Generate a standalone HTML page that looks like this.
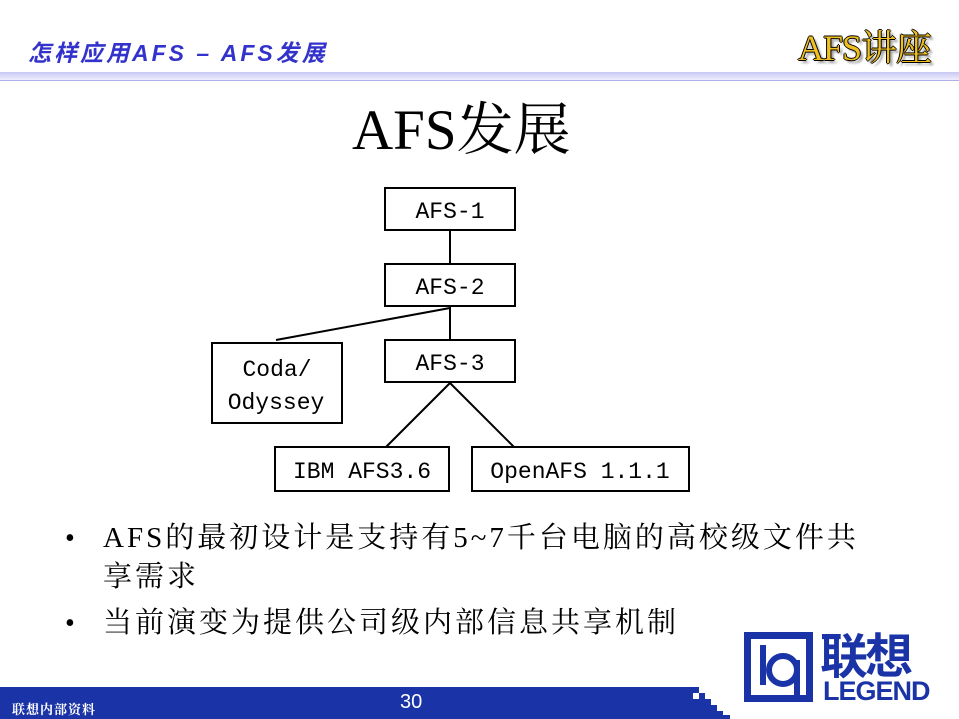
<!DOCTYPE html>
<html><head><meta charset="utf-8"><style>
body{margin:0;width:959px;height:719px;position:relative;background:#fff;overflow:hidden;font-family:"Liberation Serif","Noto Serif CJK SC",serif}
.a{position:absolute}
</style></head><body>
<div class="a" style="left:28px;top:34px;font:bold 23px 'Liberation Sans','Noto Sans CJK SC',sans-serif;color:#3333cc;letter-spacing:3px;font-style:italic">怎样应用AFS – AFS发展</div>
<div class="a" style="left:798px;top:20px;font:36px 'Liberation Serif','Noto Serif CJK SC',serif;color:#f0c020;text-shadow:1px 0 0 #000,-1px 0 0 #000,0 1px 0 #000,0 -1px 0 #000,3px 3px 2px #999;letter-spacing:-1px">AFS讲座</div>
<div class="a" style="left:0;top:72px;width:959px;height:8px;background:linear-gradient(#c8c8f4,#eeeefc);border-bottom:1px solid #b0b0e8"></div>
<div class="a" style="left:352px;top:95px;font-size:57px;color:#000;line-height:72px">AFS发展</div>
<svg class="a" style="left:0;top:0" width="959" height="719">
<g stroke="#000" stroke-width="2" fill="none">
<line x1="450" y1="230" x2="450" y2="264"/><line x1="450" y1="306" x2="450" y2="340"/>
<line x1="450" y1="308" x2="276" y2="340"/><line x1="450" y1="383" x2="386" y2="447"/><line x1="450" y1="383" x2="514" y2="447"/>
<rect x="385" y="188" width="130" height="42"/><rect x="385" y="264" width="130" height="42"/><rect x="385" y="340" width="130" height="42"/>
<rect x="212" y="343" width="130" height="80"/><rect x="275" y="447" width="174" height="44"/><rect x="472" y="447" width="217" height="44"/>
</g>
<g font-family="Liberation Mono,monospace" font-size="23" text-anchor="middle" fill="#000">
<text x="450" y="218">AFS-1</text><text x="450" y="294">AFS-2</text><text x="450" y="370">AFS-3</text>
<text x="277" y="376">Coda/</text><text x="276" y="409">Odyssey</text>
<text x="362" y="478">IBM AFS3.6</text><text x="580" y="478">OpenAFS 1.1.1</text>
</g>
<rect x="744" y="632" width="69" height="70" fill="#1a33a6"/>
<rect x="751" y="639" width="55" height="56" fill="#fff"/>
<rect x="760" y="645" width="6" height="40" fill="#1a33a6"/>
<circle cx="783" cy="670" r="14" fill="none" stroke="#1a33a6" stroke-width="6"/>
<rect x="794" y="660" width="6" height="35" fill="#1a33a6"/>
</svg>
<div class="a" style="left:820px;top:624px;font:bold 48px 'Noto Sans CJK SC',sans-serif;color:#1a33a6;line-height:56px;letter-spacing:-3px">联想</div>
<div class="a" style="left:823px;top:677px;font:bold 27px 'Liberation Sans',sans-serif;color:#1a33a6;line-height:28px;letter-spacing:-1px">LEGEND</div>
<div class="a" style="left:65px;top:519px;font-size:28px;line-height:39px;color:#000">•</div>
<div class="a" style="left:103px;top:519px;width:760px;font-size:29px;letter-spacing:3px;line-height:39px;color:#000">AFS的最初设计是支持有5~7千台电脑的高校级文件共享需求</div>
<div class="a" style="left:65px;top:604px;font-size:28px;line-height:39px">•</div>
<div class="a" style="left:103px;top:604px;font-size:29px;letter-spacing:3px;line-height:39px">当前演变为提供公司级内部信息共享机制</div>
<div class="a" style="left:0;top:687px;width:692px;height:32px;background:#1a33a6"></div>
<svg class="a" style="left:690px;top:687px" width="45" height="32">
<rect x="0" y="0" width="3" height="32" fill="#1a33a6"/>
<rect x="3" y="0" width="6" height="6" fill="#1a33a6"/><rect x="9" y="6" width="6" height="26" fill="#1a33a6"/><rect x="3" y="12" width="6" height="20" fill="#1a33a6"/>
<rect x="15" y="12" width="6" height="20" fill="#1a33a6"/><rect x="21" y="18" width="6" height="14" fill="#1a33a6"/><rect x="27" y="24" width="6" height="8" fill="#1a33a6"/><rect x="33" y="28" width="7" height="4" fill="#1a33a6"/>
</svg>
<div class="a" style="left:12px;top:701px;font:bold 13px 'Noto Serif CJK SC',serif;color:#fff;line-height:16px;letter-spacing:1px">联想内部资料</div>
<div class="a" style="left:400px;top:691px;font:20px 'Liberation Sans',sans-serif;color:#fff">30</div>
</body></html>
